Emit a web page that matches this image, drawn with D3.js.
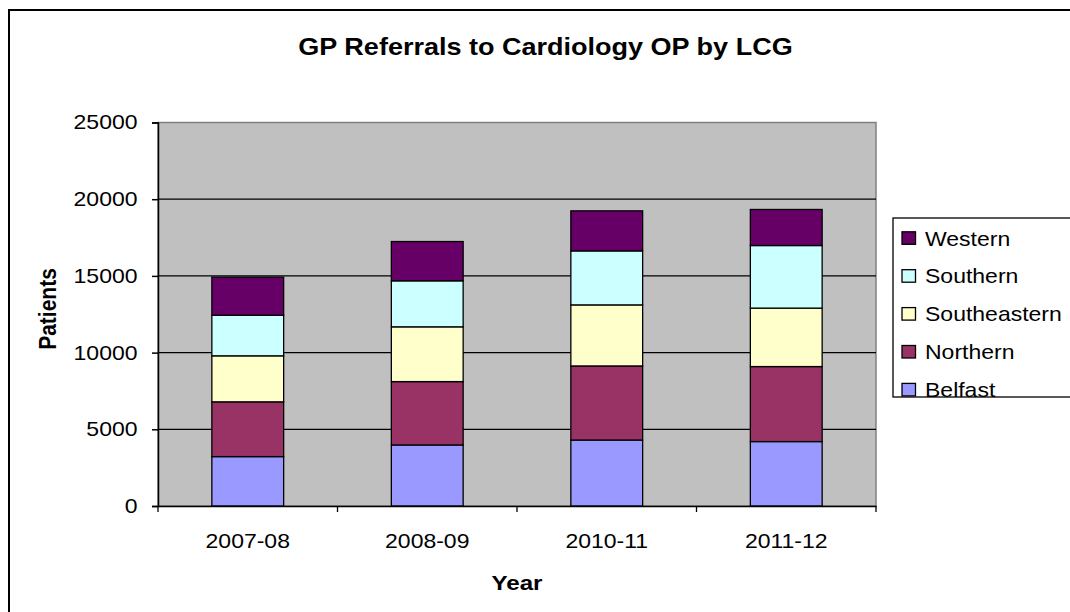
<!DOCTYPE html>
<html lang="en">
<head>
    <meta charset="UTF-8">
    <script type="text/javascript" src="https://d3js.org/d3.v7.min.js"></script>
    <title>GP Referrals to Cardiology OP by LCG</title>
    <style>
        body { margin: 0; background: #fff; }
        text { font-family: "Liberation Sans", Arial, sans-serif; fill: #000; }
    </style>
</head>
<body>
    <svg id="svg"></svg>
    <script>
        const years = ["2007-08", "2008-09", "2010-11", "2011-12"];
        const belfast = [3220, 3980, 4300, 4200];
        const northern = [3570, 4130, 4830, 4890];
        const southeastern = [3000, 3570, 3980, 3810];
        const southern = [2650, 3000, 3520, 4080];
        const western = [2480, 2560, 2610, 2350];
        const seriesNames = ["Belfast", "Northern", "Southeastern", "Southern", "Western"];
        const seriesColors = ["#9999FF", "#993366", "#FFFFCC", "#CCFFFF", "#660066"];
        const yTicks = [0, 5000, 10000, 15000, 20000, 25000];

        const width = 1070, height = 612;
        const plot = {left: 158, right: 876, top: 122.5, bottom: 506};
        const sx = 1.15; // the source picture is a bit wider than tall

        const table = years.map((y, i) => ({
            year: y, Belfast: belfast[i], Northern: northern[i],
            Southeastern: southeastern[i], Southern: southern[i], Western: western[i]
        }));
        const stacked = d3.stack().keys(seriesNames)(table);

        const x = d3.scaleBand().domain(years)
            .range([plot.left, plot.right])
            .paddingInner(0.6).paddingOuter(0.3);
        const y = d3.scaleLinear().domain([0, 25000]).range([plot.bottom, plot.top]);
        const color = d3.scaleOrdinal().domain(seriesNames).range(seriesColors);

        const svg = d3.select("#svg").attr("width", width).attr("height", height);

        // chart frame (right/bottom edges lie outside the picture)
        svg.append("rect").attr("x", 9).attr("y", 10).attr("width", 1200).attr("height", 800)
            .attr("fill", "#fff").attr("stroke", "#000").attr("stroke-width", 2);

        // plot area
        svg.append("rect").attr("x", plot.left).attr("y", plot.top)
            .attr("width", plot.right - plot.left).attr("height", plot.bottom - plot.top)
            .attr("fill", "#C0C0C0").attr("stroke", "#808080").attr("stroke-width", 1.5);

        svg.append("g").selectAll("line").data(yTicks.filter(d => d > 0 && d < 25000)).join("line")
            .attr("x1", plot.left).attr("x2", plot.right)
            .attr("y1", d => y(d)).attr("y2", d => y(d))
            .attr("stroke", "#000").attr("stroke-width", 1.3);

        // bars
        svg.append("g").selectAll("g").data(stacked).join("g")
            .attr("fill", d => color(d.key))
            .selectAll("rect").data(d => d).join("rect")
            .attr("x", d => x(d.data.year))
            .attr("width", x.bandwidth())
            .attr("y", d => y(d[1]))
            .attr("height", d => y(d[0]) - y(d[1]))
            .attr("stroke", "#000").attr("stroke-width", 1.3);

        // axes
        const yAxis = d3.axisLeft(y).tickValues(yTicks).tickSize(6).tickFormat(d3.format("d"));
        svg.append("g").attr("transform", `translate(${plot.left},0)`)
            .call(yAxis)
            .call(g => g.selectAll("line, path").attr("stroke", "#000").attr("stroke-width", 1.5))
            .call(g => g.selectAll("text").attr("x", 0).attr("font-size", 20)
                .attr("transform", `translate(-20.5,0) scale(${sx},1)`));

        const xAxis = d3.axisBottom(x).tickSize(0).tickSizeOuter(0);
        const xg = svg.append("g").attr("transform", `translate(0,${plot.bottom})`).call(xAxis);
        xg.select(".domain").attr("stroke", "#000").attr("stroke-width", 1.5);
        xg.selectAll("text").attr("y", 0).attr("dy", 0).attr("font-size", 20)
            .attr("transform", `translate(0,41.5) scale(${sx},1)`);
        // category separators
        const bounds = years.map(yr => x(yr) - x.step() * x.paddingInner() / 2).slice(1)
            .concat([plot.left, plot.right]);
        xg.selectAll(".sep").data(bounds).join("line").attr("class", "sep")
            .attr("x1", d => d).attr("x2", d => d).attr("y1", 0).attr("y2", 6)
            .attr("stroke", "#000").attr("stroke-width", 1.3);

        // title and axis titles
        svg.append("text").attr("font-size", 23.5).attr("font-weight", "bold")
            .attr("text-anchor", "middle")
            .attr("transform", `translate(545.5,55) scale(${sx},1)`)
            .text("GP Referrals to Cardiology OP by LCG");
        svg.append("text").attr("font-size", 21).attr("font-weight", "bold")
            .attr("text-anchor", "middle")
            .attr("transform", `translate(517,590) scale(${sx},1)`)
            .text("Year");
        svg.append("text").attr("font-size", 21).attr("font-weight", "bold")
            .attr("text-anchor", "middle")
            .attr("transform", `translate(55.5,309) scale(${sx},1) rotate(-90)`)
            .text("Patients");

        // legend
        const lg = svg.append("g");
        lg.append("rect").attr("x", 893).attr("y", 218).attr("width", 300).attr("height", 179)
            .attr("fill", "#fff").attr("stroke", "#000").attr("stroke-width", 1.3);
        const legendItems = seriesNames.slice().reverse();
        const row = lg.selectAll("g.item").data(legendItems).join("g").attr("class", "item")
            .attr("transform", (d, i) => `translate(902,${238.3 + i * 37.9})`);
        row.append("rect").attr("x", 0).attr("y", -6.5).attr("width", 13.5).attr("height", 12.5)
            .attr("fill", d => color(d)).attr("stroke", "#000").attr("stroke-width", 1.3);
        row.append("text").attr("font-size", 20).attr("dy", "0.36em")
            .attr("transform", `translate(23,0) scale(${sx},1)`)
            .text(d => d);
    </script>
</body>
</html>
